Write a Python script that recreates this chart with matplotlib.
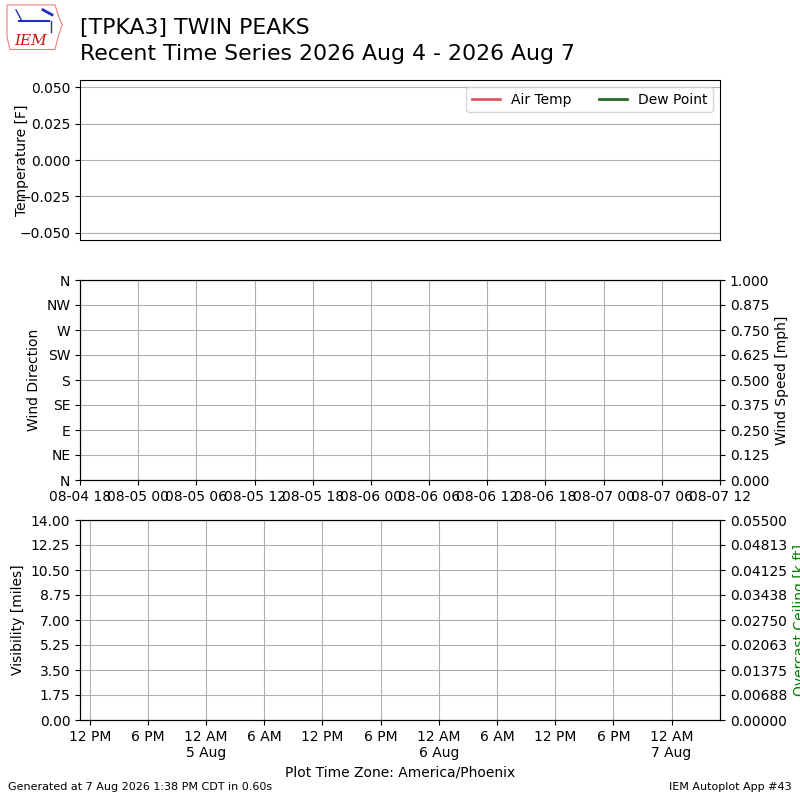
from datetime import datetime, timedelta, timezone

import matplotlib
matplotlib.use("Agg")
import matplotlib.pyplot as plt
import matplotlib.dates as mdates
from matplotlib.patches import Polygon
from matplotlib.ticker import FuncFormatter, FormatStrFormatter

# station and period
station = "[TPKA3] TWIN PEAKS"
title2 = "Recent Time Series 2026 Aug 4 - 2026 Aug 7"
footer_left = "Generated at 7 Aug 2026 1:38 PM CDT in 0.60s"
footer_right = "IEM Autoplot App #43"

# observations (station reported nothing in the window)
valid = []
tmpf = []
dwpf = []
drct = []
sknt = []
vsby = []
ceiling = []

utc = timezone.utc
phx = timezone(timedelta(hours=-7))
sts = datetime(2026, 8, 4, 18, tzinfo=utc)
ets = datetime(2026, 8, 7, 12, tzinfo=utc)

dir_labels = ["N", "NE", "E", "SE", "S", "SW", "W", "NW", "N"]
vis_ticks = [0, 1.75, 3.5, 5.25, 7, 8.75, 10.5, 12.25, 14]
ceil_ticks = [i * 0.006875 for i in range(9)]
speed_ticks = [i * 0.125 for i in range(9)]

fig = plt.figure(figsize=(8, 8), dpi=100)

# logo, rough
logo = fig.add_axes([0.005, 0.935, 0.075, 0.062])
logo.set_xlim(0, 1)
logo.set_ylim(0, 1)
logo.axis("off")
logo.add_patch(Polygon([(0.05, 0.95), (0.85, 0.95), (0.9, 0.75), (0.97, 0.55),
                        (0.9, 0.3), (0.85, 0.05), (0.1, 0.05), (0.05, 0.3)],
                       closed=True, fill=False, ec="#e88080", lw=0.8))
logo.plot([0.25, 0.75], [0.62, 0.62], color="#1f2fbf", lw=1.5)
logo.plot([0.2, 0.3], [0.85, 0.62], color="#1f2fbf", lw=1)
logo.plot([0.65, 0.8], [0.85, 0.75], color="#1f2fbf", lw=2)
logo.plot([0.78, 0.78], [0.62, 0.4], color="#1f2fbf", lw=1)
logo.text(0.45, 0.22, "IEM", color="#d01010", fontsize=11, fontstyle="italic",
          family="DejaVu Serif", ha="center", va="center")

fig.text(0.1, 0.977, station + "\n" + title2, fontsize=15.8, va="top", ha="left",
         linespacing=1.35)

# temperature
ax1 = fig.add_axes([0.1, 0.7, 0.8, 0.2])
ax1.plot(valid, tmpf, color="#e05a66", lw=2, label="Air Temp")
ax1.plot(valid, dwpf, color="#2a6a2a", lw=2, label="Dew Point")
ax1.set_xlim(sts, ets)
ax1.set_ylim(-0.055, 0.055)
ax1.set_xticks([])
ax1.grid(True, axis="y")
ax1.set_ylabel("Temperature [F]")
ax1.yaxis.set_label_coords(-0.079, 0.5)
ax1.legend(loc="upper right", ncol=2)

# wind
ax2 = fig.add_axes([0.1, 0.4, 0.8, 0.25])
ax2.plot(valid, drct, "o", color="b")
ax2.set_xlim(sts, ets)
ax2.set_ylim(0, 360)
ax2.set_yticks(range(0, 361, 45))
ax2.set_yticklabels(dir_labels)
ax2.set_ylabel("Wind Direction")
ax2.xaxis.set_major_locator(mdates.HourLocator(byhour=range(0, 24, 6), tz=utc))
ax2.xaxis.set_major_formatter(mdates.DateFormatter("%m-%d %H", tz=utc))
ax2.grid(True)
ax2b = ax2.twinx()
ax2b.plot(valid, sknt, color="r")
ax2b.set_ylim(0, 1)
ax2b.set_yticks(speed_ticks)
ax2b.yaxis.set_major_formatter(FormatStrFormatter("%.3f"))
ax2b.set_ylabel("Wind Speed [mph]")

# visibility / ceiling
ax3 = fig.add_axes([0.1, 0.1, 0.8, 0.25])
ax3.plot(valid, vsby, color="b")
ax3.set_xlim(sts, ets)
ax3.set_ylim(0, 14)
ax3.set_yticks(vis_ticks)
ax3.yaxis.set_major_formatter(FormatStrFormatter("%.2f"))
ax3.set_ylabel("Visibility [miles]")


def fmt_local(x, pos=None):
    dt = mdates.num2date(x, tz=phx)
    lbl = dt.strftime("%I %p").lstrip("0")
    if dt.hour == 0:
        lbl += "\n" + "%d %s" % (dt.day, dt.strftime("%b"))
    return lbl


ax3.xaxis.set_major_locator(mdates.HourLocator(byhour=range(0, 24, 6), tz=phx))
ax3.xaxis.set_major_formatter(FuncFormatter(fmt_local))
ax3.set_xlabel("Plot Time Zone: America/Phoenix")
ax3.grid(True)
ax3b = ax3.twinx()
ax3b.plot(valid, ceiling, color="g")
ax3b.set_ylim(0, 0.055)
ax3b.set_yticks(ceil_ticks)
ax3b.yaxis.set_major_formatter(FormatStrFormatter("%.5f"))
ax3b.set_ylabel("Overcast Ceiling [k ft]", color="g")

fig.text(0.01, 0.01, footer_left, fontsize=8, ha="left", va="bottom")
fig.text(0.99, 0.01, footer_right, fontsize=8, ha="right", va="bottom")

fig.savefig("out.png", dpi=100)
